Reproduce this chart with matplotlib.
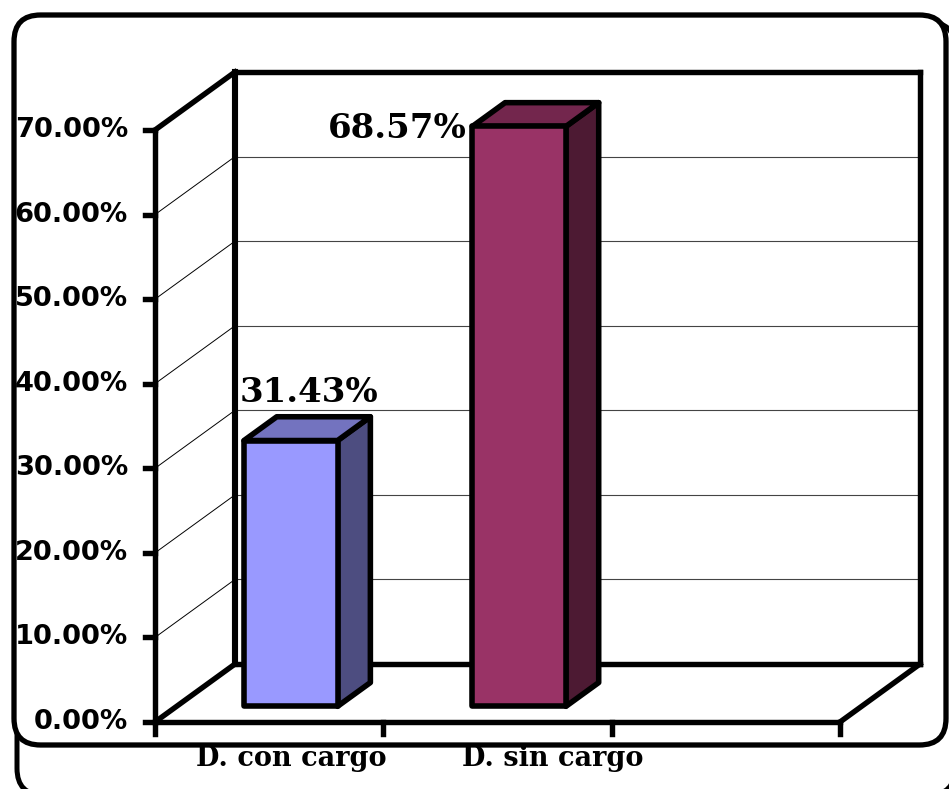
import numpy as np
import matplotlib
matplotlib.use("Agg")
import matplotlib.pyplot as plt
from matplotlib.patches import Polygon, FancyBboxPatch
from matplotlib.lines import Line2D
from matplotlib.transforms import IdentityTransform

# ---- data ----
categories = ["D. con cargo", "D. sin cargo", ""]
values = [31.43, 68.57]
value_labels = ["31.43%", "68.57%"]
y_ticks = [0, 10, 20, 30, 40, 50, 60, 70]
y_tick_labels = ["0.00%", "10.00%", "20.00%", "30.00%", "40.00%", "50.00%", "60.00%", "70.00%"]

front_colors = ["#9999FF", "#993366"]
top_colors = ["#7373BF", "#73264D"]
side_colors = ["#4D4D80", "#4D1A33"]

W, H, DPI = 949, 789, 100
fig = plt.figure(figsize=(W / DPI, H / DPI), dpi=DPI)
fig.patch.set_facecolor("white")

def fx(px):
    return px / W

def fy(py):
    return 1 - py / H

BOX = "round,pad=0,rounding_size=0.028"
# outer rounded frames: white fill underneath, outlines on top of everything
frame2 = FancyBboxPatch((fx(17), fy(795)), fx(955) - fx(17), fy(22) - fy(795),
                        boxstyle=BOX, transform=fig.transFigure, fc="white",
                        ec="black", lw=3.6, zorder=-3, mutation_aspect=W / H)
frame1_fill = FancyBboxPatch((fx(14), fy(745)), fx(946) - fx(14), fy(15) - fy(745),
                             boxstyle=BOX, transform=fig.transFigure, fc="white",
                             ec="none", zorder=-2, mutation_aspect=W / H)
frame1_edge = FancyBboxPatch((fx(14), fy(745)), fx(946) - fx(14), fy(15) - fy(745),
                             boxstyle=BOX, transform=fig.transFigure, fc="none",
                             ec="black", lw=3.8, zorder=10, mutation_aspect=W / H)
fig.patches.extend([frame2, frame1_fill, frame1_edge])

# front plane of the plot
ax = fig.add_axes([fx(155), fy(722), fx(840) - fx(155), fy(130) - fy(722)])
ax.set_xlim(-0.5, len(categories) - 0.5)
ax.set_ylim(0, 70)
ax.axis("off")

DX, DY = 80, 58          # depth offset of the back wall, in pixels
BAR_D0, BAR_DEPTH = 0.27, 0.41
BAR_W = 0.41
xmin, xmax = -0.5, len(categories) - 0.5
ID = IdentityTransform()

def P(x, y, d=0.0):
    p = ax.transData.transform((x, y))
    return (p[0] + DX * d, p[1] + DY * d)

def line(p0, p1, lw, color="black", z=2):
    ax.add_line(Line2D([p0[0], p1[0]], [p0[1], p1[1]], lw=lw, color=color,
                       transform=ID, clip_on=False, zorder=z,
                       solid_capstyle="projecting"))

THICK = 3.9
# gridlines on back wall + side wall
for t in y_ticks[1:-1]:
    line(P(xmin, t, 1), P(xmax, t, 1), 0.8, color="#444444", z=1)
    line(P(xmin, t, 0), P(xmin, t, 1), 0.7, color="black", z=1)

# walls and floor edges
line(P(xmin, 0, 1), P(xmin, 70, 1), 4.4)
line(P(xmax, 0, 1), P(xmax, 70, 1), THICK)
line(P(xmin, 70, 1), P(xmax, 70, 1), THICK)
line(P(xmin, 0, 1), P(xmax, 0, 1), THICK)
line(P(xmin, 70, 0), P(xmin, 70, 1), THICK)
line(P(xmin, 0, 0), P(xmin, 0, 1), THICK)
line(P(xmax, 0, 0), P(xmax, 0, 1), THICK)
line(P(xmin, 0, 0), P(xmin, 70, 0), THICK, z=6)
line(P(xmin, 0, 0), P(xmax, 0, 0), THICK, z=6)

# y ticks and labels
for t, lab in zip(y_ticks, y_tick_labels):
    p = P(xmin, t, 0)
    line((p[0] - 10, p[1]), p, THICK, z=6)
    ax.text(p[0] - 27, p[1], lab, transform=ID, ha="right", va="center",
            fontsize=19.6, fontweight="bold", family="DejaVu Sans",
            clip_on=False, zorder=7)

# x ticks (category boundaries)
for b in np.arange(xmin, xmax + 0.01, 1.0):
    p = P(b, 0, 0)
    line(p, (p[0], p[1] - 12), THICK, z=6)

# category labels
cat_offsets = [22, 55]
for i, (name, off) in enumerate(zip(categories, cat_offsets + [0])):
    if not name:
        continue
    p = P(i, 0, 0)
    ax.text(p[0] + off, p[1] - 44, name, transform=ID, ha="center",
            va="baseline", fontsize=19.5, fontweight="bold",
            family="DejaVu Serif", clip_on=False, zorder=7)

# 3D bars
for i, v in enumerate(values):
    x0, x1 = i - BAR_W / 2, i + BAR_W / 2
    d0, d1 = BAR_D0, BAR_D0 + BAR_DEPTH
    front = [P(x0, 0, d0), P(x1, 0, d0), P(x1, v, d0), P(x0, v, d0)]
    side = [P(x1, 0, d0), P(x1, 0, d1), P(x1, v, d1), P(x1, v, d0)]
    top = [P(x0, v, d0), P(x1, v, d0), P(x1, v, d1), P(x0, v, d1)]
    for pts, c in ((side, side_colors[i]), (top, top_colors[i]), (front, front_colors[i])):
        ax.add_patch(Polygon(pts, closed=True, fc=c, ec="black", lw=4.0,
                             joinstyle="round", transform=ID, clip_on=False,
                             zorder=4))

# value labels
label_offsets = [(18, 32, "center"), (-6, -2, "right")]
for i, (v, lab) in enumerate(zip(values, value_labels)):
    dx, dy, ha = label_offsets[i]
    if ha == "center":
        p = P(i, v, BAR_D0)
    else:
        p = P(i - BAR_W / 2, v, BAR_D0)
    ax.text(p[0] + dx, p[1] + dy, lab, transform=ID, ha=ha,
            va="bottom" if ha == "center" else "center",
            fontsize=24.5, fontweight="bold", family="DejaVu Serif",
            clip_on=False, zorder=8)

fig.savefig("out.png", dpi=DPI, facecolor="white")
